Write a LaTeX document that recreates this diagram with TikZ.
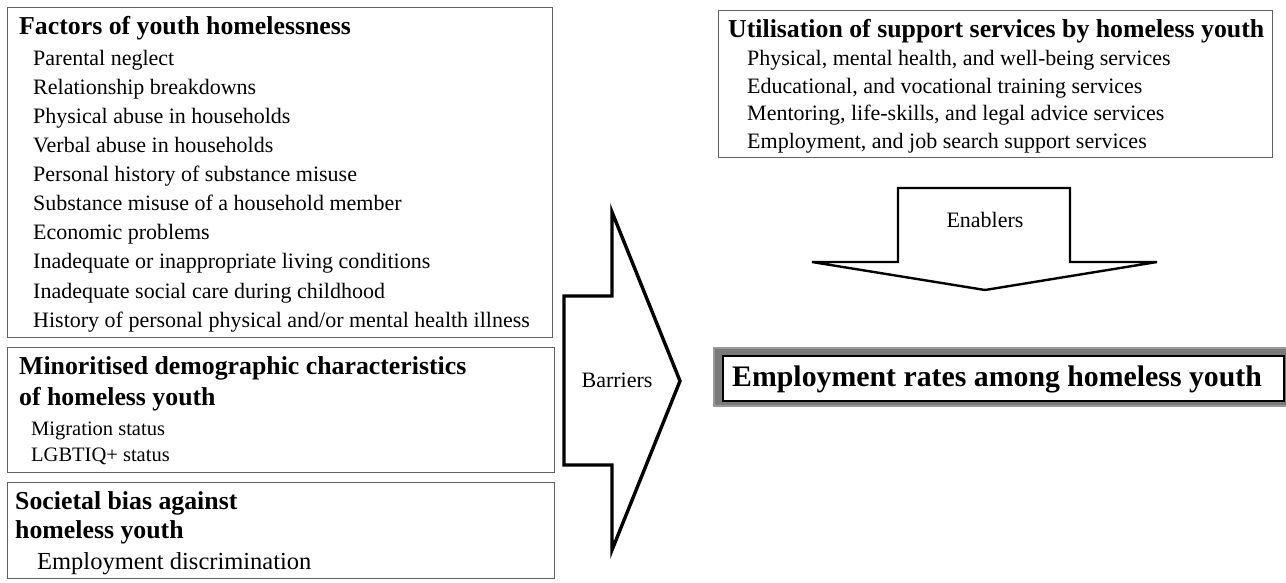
\documentclass[tikz,border=0pt]{standalone}
\usepackage{fontspec}
\setmainfont{Liberation Serif}
\newcommand\itemsz{\fontsize{22}{26}\selectfont}
\newcommand\smallitemsz{\fontsize{20.5}{24}\selectfont}
\newcommand\bigitemsz{\fontsize{24.5}{28}\selectfont}
\newcommand\titlesz{\fontsize{25.8}{30}\selectfont\bfseries}
\newcommand\maintitlesz{\fontsize{29.8}{34}\selectfont\bfseries}
\begin{document}
\begin{tikzpicture}[x=1pt,y=-1pt,
  box/.style={draw=black!62, line width=1.1pt, anchor=north west, inner sep=0pt},
  txt/.style={anchor=mid west, inner sep=0pt, font=\itemsz, yshift=-5pt},
  ttl/.style={anchor=mid west, inner sep=0pt, font=\titlesz, yshift=-5pt},
  bigarrow/.style={draw=black, line width=3.4pt, line join=miter, fill=white},
  medarrow/.style={draw=black, line width=2.4pt, line join=miter, fill=white},
  lbl/.style={inner sep=0pt, font=\itemsz, yshift=-2pt}]
\useasboundingbox (0,0) rectangle (1286,583);
% left boxes
\node[box, minimum width=545pt, minimum height=330pt] (b1) at (7,7) {};
\node[box, minimum width=547pt, minimum height=125pt] (b2) at (7,347) {};
\node[box, minimum width=547pt, minimum height=96pt] (b3) at (7,482) {};
% box 1 text
\node[ttl] (t1) at (19,27) {Factors of youth homelessness};
\node[txt] (f1) at (33,58) {Parental neglect};
\node[txt] (f2) at (33,87.1) {Relationship breakdowns};
\node[txt] (f3) at (33,116.2) {Physical abuse in households};
\node[txt] (f4) at (33,145.3) {Verbal abuse in households};
\node[txt] (f5) at (33,174.4) {Personal history of substance misuse};
\node[txt] (f6) at (33,203.5) {Substance misuse of a household member};
\node[txt] (f7) at (33,232.6) {Economic problems};
\node[txt] (f8) at (33,261.7) {Inadequate or inappropriate living conditions};
\node[txt] (f9) at (33,290.8) {Inadequate social care during childhood};
\node[txt] (f10) at (33,319.9) {History of personal physical and/or mental health illness};
% box 2 text
\node[ttl] (t2a) at (19,367) {Minoritised demographic characteristics};
\node[ttl] (t2b) at (19,398) {of homeless youth};
\node[txt, font=\smallitemsz] (m1) at (31,428) {Migration status};
\node[txt, font=\smallitemsz] (m2) at (31,454) {LGBTIQ+ status};
% box 3 text
\node[ttl] (t3a) at (15,502) {Societal bias against};
\node[ttl] (t3b) at (15,531) {homeless youth};
\node[txt, font=\bigitemsz] (s1) at (37,562) {Employment discrimination};
% Barriers arrow
\draw[bigarrow] (564,296) -- (612,296) -- (612,212) -- (680,381) -- (612,550) -- (612,465) -- (564,465) -- cycle;
\node[lbl] (barr) at (617,378) {Barriers};
% right top box
\node[box, minimum width=554pt, minimum height=147pt] (b4) at (718,10) {};
\node[ttl] (t4) at (728,30) {Utilisation of support services by homeless youth};
\node[txt] (u1) at (747,58) {Physical, mental health, and well-being services};
\node[txt] (u2) at (747,86) {Educational, and vocational training services};
\node[txt] (u3) at (747,113.5) {Mentoring, life-skills, and legal advice services};
\node[txt] (u4) at (747,141) {Employment, and job search support services};
% Enablers arrow
\draw[medarrow] (898,188) -- (1070,188) -- (1070,262) -- (1157,262) -- (985,290) -- (812,262) -- (898,262) -- cycle;
\node[lbl] (enab) at (985,218) {Enablers};
% outcome box
\fill[black!40] (713,347) rectangle (1286,407);
\fill[black!52] (715,349) rectangle (1286,405);
\node[draw=black, line width=2pt, fill=white, anchor=north west, minimum width=561pt, minimum height=45pt, inner sep=0pt] (out) at (722,355) {};
\node[anchor=mid west, inner sep=0pt, font=\maintitlesz, yshift=-6pt] (outt) at (732,378) {Employment rates among homeless youth};
\end{tikzpicture}
\end{document}
